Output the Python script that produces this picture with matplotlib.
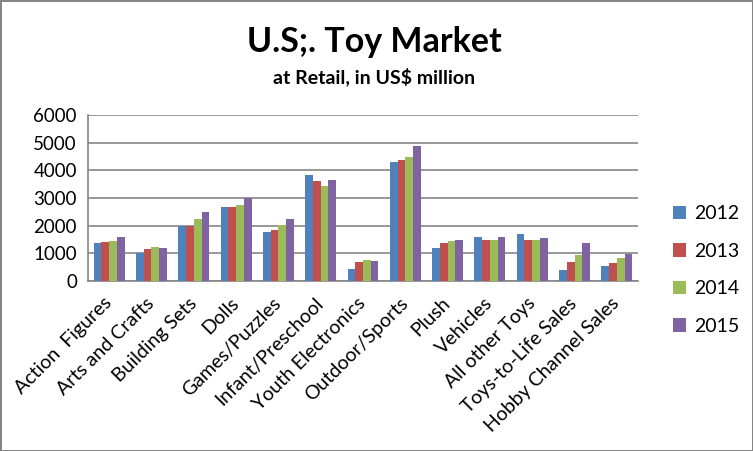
import numpy as np
import matplotlib.pyplot as plt
from matplotlib.patches import Patch

plt.rcParams['font.family'] = ['Lato', 'DejaVu Sans']

categories = ['Action  Figures', 'Arts and Crafts', 'Building Sets', 'Dolls',
              'Games/Puzzles', 'Infant/Preschool', 'Youth Electronics',
              'Outdoor/Sports', 'Plush', 'Vehicles', 'All other Toys',
              'Toys-to-Life Sales', 'Hobby Channel Sales']
years = ['2012', '2013', '2014', '2015']
v2012 = [1390, 1010, 2000, 2690, 1780, 3840, 445, 4310, 1200, 1600, 1710, 410, 555]
v2013 = [1420, 1170, 2000, 2690, 1855, 3630, 700, 4390, 1385, 1495, 1495, 700, 660]
v2014 = [1460, 1240, 2250, 2760, 2035, 3450, 770, 4490, 1460, 1495, 1495, 950, 845]
v2015 = [1600, 1200, 2500, 3000, 2250, 3660, 735, 4890, 1495, 1600, 1565, 1385, 990]
colors = ['#4F81BD', '#C0504D', '#9BBB59', '#8064A2']

fig = plt.figure(figsize=(7.53, 4.51), dpi=100)
fig.patch.set_edgecolor('#868686')
fig.patch.set_linewidth(2)
ax = fig.add_axes([88 / 753, 1 - 281 / 451, (638 - 88) / 753, (281 - 115) / 451])

x = np.arange(len(categories))
w = 0.183
for i, (vals, c) in enumerate(zip([v2012, v2013, v2014, v2015], colors)):
    ax.bar(x + (i - 1.5) * w, vals, width=w, color=c, zorder=3)

ax.set_xlim(-0.5, len(categories) - 0.5)
ax.set_ylim(0, 6000)
ax.set_yticks(range(0, 6001, 1000))
ax.yaxis.grid(True, color='#868686', linewidth=1.2, zorder=0)
for s in ['top', 'right']:
    ax.spines[s].set_visible(False)
for s in ['left', 'bottom']:
    ax.spines[s].set_color('#868686')
    ax.spines[s].set_linewidth(1.2)
ax.tick_params(axis='both', length=0, labelsize=13.5)
ax.tick_params(axis='y', pad=8)
ax.set_xticks(x)
ax.set_xticklabels(categories, rotation=45, ha='right', va='center',
                   rotation_mode='anchor', fontsize=14)
ax.tick_params(axis='x', pad=14)

fig.text(0.497, 1 - 42 / 451, 'U.S;. Toy Market', ha='center', va='center',
         fontsize=24.5, fontweight='bold')
fig.text(0.497, 1 - 77 / 451, 'at Retail, in US$ million', ha='center', va='center',
         fontsize=14, fontweight='bold')

handles = [Patch(facecolor=c) for c in colors]
fig.legend(handles, years, loc='center left', bbox_to_anchor=(655 / 753, 1 - 270 / 451),
           frameon=False, fontsize=14, handlelength=0.7, handleheight=0.7,
           labelspacing=1.05, handletextpad=0.4)

plt.savefig('out.png', dpi=100)
plt.close()
